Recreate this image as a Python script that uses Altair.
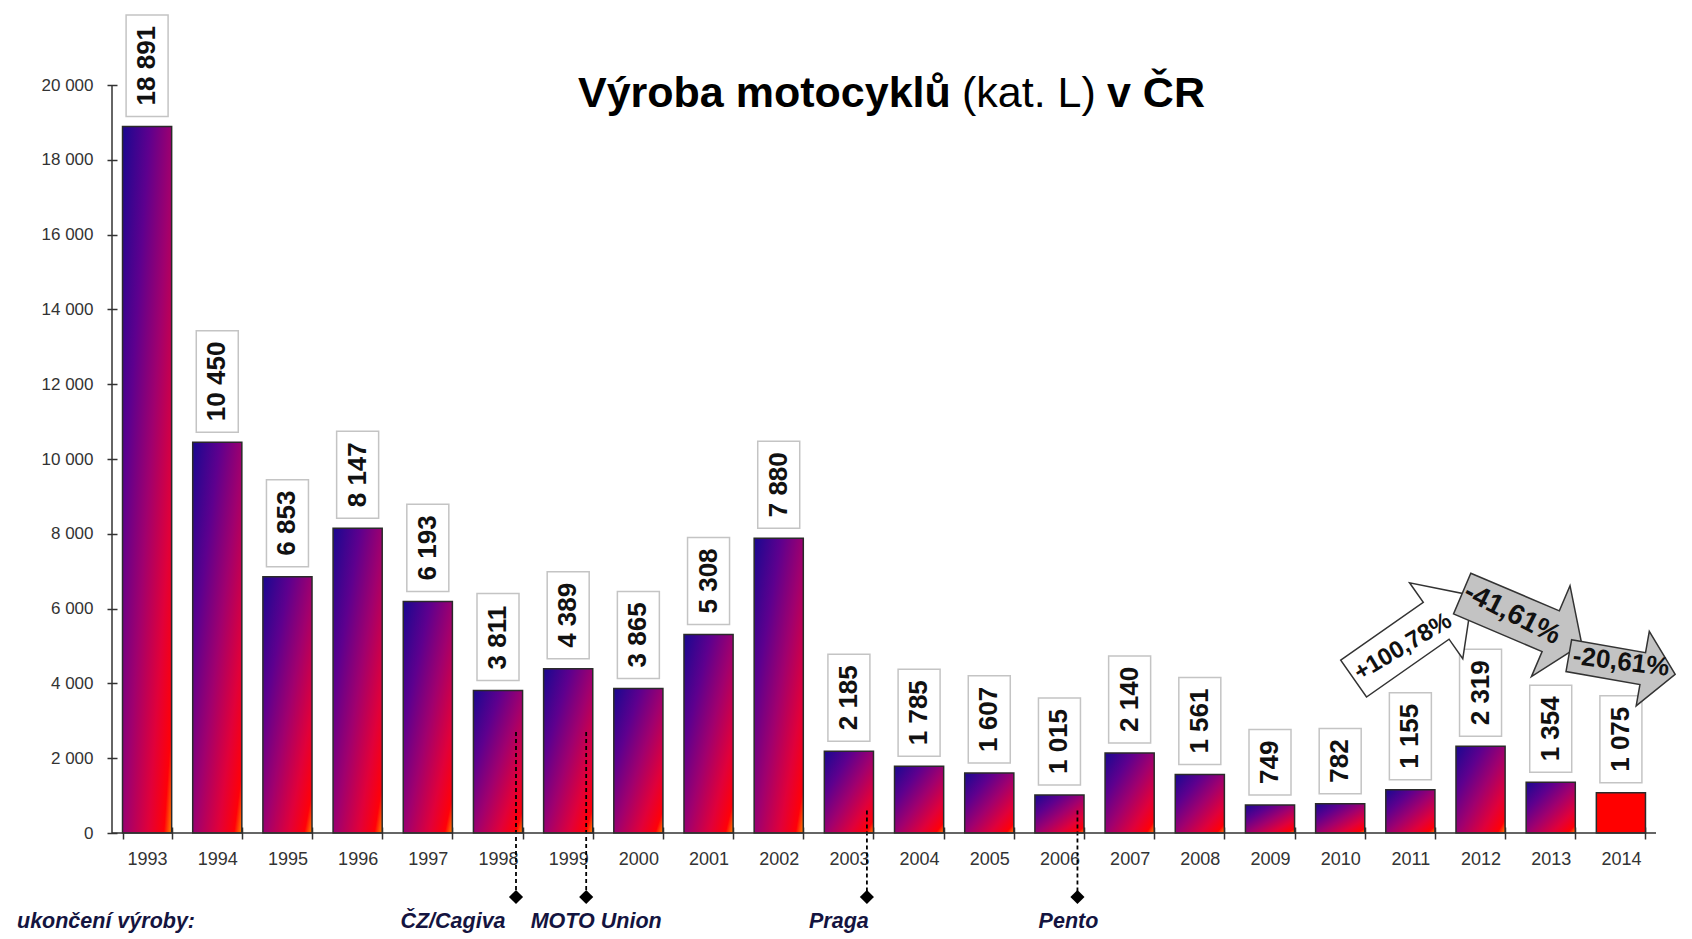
import altair as alt
import pandas as pd

# ---------------- data ----------------
years = [str(y) for y in range(1993, 2015)]
values = [18891, 10450, 6853, 8147, 6193, 3811, 4389, 3865, 5308, 7880, 2185,
          1785, 1607, 1015, 2140, 1561, 749, 782, 1155, 2319, 1354, 1075]
y_ticks = [0, 2000, 4000, 6000, 8000, 10000, 12000, 14000, 16000, 18000, 20000]
highlight_year = "2014"

end_years = ["1998", "1999", "2003", "2006"]
end_names = ["ČZ/Cagiva", "MOTO Union", "Praga", "Pento"]
end_marker_top = [2700, 2700, 600, 600]
footer_label = "ukončení výroby:"

change_labels = ["+100,78%", "-41,61%", "-20,61%"]
title_parts = ["Výroba motocyklů", "(kat. L)", "v ČR"]

# ---------------- layout / style ----------------
W, H = 1544, 748
FONT = "Liberation Sans"
VAL_FS = 26
PAD = 11
NOTE_FS = 21.5
NOTE_COLOR = "#141440"
NOTE_Y = 843

labels = [f"{v:,}".replace(",", " ") for v in values]
df = pd.DataFrame({"year": years, "value": values, "label": labels,
                   "nchar": [len(s) for s in labels]})

xscale = alt.Scale(domain=years, paddingInner=0.3, paddingOuter=0.15)
yscale = alt.Scale(domain=[0, 20000], nice=False, zero=True)

X = alt.X("year:N", scale=xscale, sort=years,
          axis=alt.Axis(title=None, labelAngle=0, labelFontSize=18, labelColor="#333",
                        labelFont=FONT, tickBand="extent", tickSize=12, tickColor="#333",
                        tickWidth=1.5, offset=-6, domain=False, labelPadding=11))
Y = alt.Y("value:Q", scale=yscale,
          axis=alt.Axis(title=None, values=y_ticks, grid=False, domain=False,
                        labelExpr="datum.value >= 1000 ? floor(datum.value/1000) + ' 000' : '' + datum.value",
                        labelFontSize=17, labelColor="#333", labelFont=FONT,
                        tickSize=10, tickColor="#333", tickWidth=1.5, offset=-5,
                        labelPadding=14))

grad = alt.LinearGradient(
    gradient="linear", x1=0, y1=0, x2=1, y2=1,
    stops=[alt.GradientStop(color="#1a0890", offset=0.0),
           alt.GradientStop(color="#5e008e", offset=0.28),
           alt.GradientStop(color="#a0006e", offset=0.52),
           alt.GradientStop(color="#e0003a", offset=0.76),
           alt.GradientStop(color="#ff0008", offset=0.92),
           alt.GradientStop(color="#ff8a00", offset=1.0)])

base = alt.Chart(df)

bars = base.transform_filter(f"datum.year != '{highlight_year}'").mark_bar(
    fill=grad, stroke="#2a2a2a", strokeWidth=1.5).encode(x=X, y=Y)
bar_hi = base.transform_filter(f"datum.year == '{highlight_year}'").mark_bar(
    fill="#ff0000", stroke="#2a2a2a", strokeWidth=1.5).encode(x=X, y=Y)


def text_px(n):
    # digits + one space per thousand group
    if n <= 3:
        return n * 0.556 * VAL_FS
    return (n - 1) * 0.556 * VAL_FS + 0.278 * VAL_FS


boxes = []
for n in sorted(set(df["nchar"])):
    h = text_px(n) + 2 * PAD
    boxes.append(
        base.transform_filter(f"datum.nchar == {n}").mark_bar(
            width=42, fill="white", stroke="#c4c4c4", strokeWidth=1.5,
            yOffset=-10, y2Offset=-(10 + h)).encode(x=X, y=Y, y2=alt.Y2("value:Q")))

val_text = base.mark_text(angle=270, align="left", baseline="middle", fontSize=VAL_FS,
                          font=FONT, fontWeight="bold", color="#111",
                          yOffset=-(10 + PAD)).encode(x=X, y=Y, text="label:N")

# axis lines
x_line = alt.Chart(pd.DataFrame({"a": [0]})).mark_rule(color="#333", strokeWidth=1.5).encode(
    y=alt.datum(0))
y_line = alt.Chart(pd.DataFrame({"a": [0]})).mark_rule(color="#333", strokeWidth=1.5).encode(
    x=alt.value(0), y=alt.value(0), y2=alt.value(H))

# production end markers
mdf = pd.DataFrame({"year": end_years, "name": end_names, "top": end_marker_top})
mbase = alt.Chart(mdf)
MX = alt.X("year:N", scale=xscale, sort=years)
mrules = mbase.mark_rule(color="black", strokeWidth=1.8, strokeDash=[4, 3], xOffset=18).encode(
    x=MX, y=alt.Y("top:Q", scale=yscale), y2=alt.value(812))
mdiam = mbase.mark_point(shape="diamond", filled=True, size=200, color="black",
                         opacity=1, xOffset=18).encode(x=MX, y=alt.value(812))
name_offsets = [-45, 28, -10, 9]
mnames = []
for nm, off in zip(end_names, name_offsets):
    mnames.append(mbase.transform_filter(alt.datum.name == nm).mark_text(
        font=FONT, fontSize=NOTE_FS, fontStyle="italic", fontWeight="bold", color=NOTE_COLOR,
        align="center", baseline="alphabetic", xOffset=off).encode(
        x=MX, y=alt.value(NOTE_Y), text="name:N"))
footer = alt.Chart(pd.DataFrame({"t": [footer_label]})).mark_text(
    font=FONT, fontSize=NOTE_FS, fontStyle="italic", fontWeight="bold", color=NOTE_COLOR,
    align="left", baseline="alphabetic").encode(x=alt.value(-95), y=alt.value(NOTE_Y), text="t:N")

# title (mixed weights)
title_x = [466, 850, 995]
title_w = ["bold", "normal", "bold"]
titles = []
for t, tx, tw in zip(title_parts, title_x, title_w):
    titles.append(alt.Chart(pd.DataFrame({"t": [t]})).mark_text(
        font=FONT, fontSize=43, fontWeight=tw, color="black", align="left",
        baseline="alphabetic").encode(x=alt.value(tx), y=alt.value(22), text="t:N"))


# change arrows
def arrow_path(shaft, head, basex):
    return (f"M-1,{-shaft}L{basex},{-shaft}L{basex},{-head}L1,0L{basex},{head}"
            f"L{basex},{shaft}L-1,{shaft}Z")


arrow_specs = [
    # (cx, cy, angle, length, shaft, head, base, fill, text cx, text cy, text angle, font size)
    (1301, 552, 325, 145, 0.31, 0.64, 0.39, "white", 1291, 562, 329, 24),
    (1410, 534, 23, 130, 0.34, 0.76, 0.48, "#c3c3c3", 1400, 529, 27, 28),
    (1510, 580, 10, 108, 0.30, 0.70, 0.39, "#c3c3c3", 1509, 577, 7, 26),
]
arrows = []
for lab, (cx, cy, ang, L, sh, hd, bx, fill, tx, ty, ta, fs) in zip(change_labels, arrow_specs):
    adf = pd.DataFrame({"t": [lab]})
    arrows.append(alt.Chart(adf).mark_point(
        shape=arrow_path(sh, hd, bx), filled=True, fill=fill, stroke="#333",
        strokeWidth=1.5, size=L * L, angle=ang, opacity=1, fillOpacity=1,
        strokeOpacity=1).encode(x=alt.value(cx), y=alt.value(cy)))
    arrows.append(alt.Chart(adf).mark_text(
        font=FONT, fontSize=fs, fontWeight="bold", color="#111", angle=ta,
        align="center", baseline="middle").encode(
        x=alt.value(tx), y=alt.value(ty), text="t:N"))

chart = alt.layer(
    bars, bar_hi, *boxes, val_text, mrules, x_line, y_line, mdiam, *mnames, footer,
    *titles, *arrows
).properties(
    width=W, height=H,
    background="white",
    autosize=alt.AutoSizeParams(type="none"),
    padding={"left": 104, "top": 77, "right": 24, "bottom": 104},
).configure_view(stroke=None, strokeWidth=0)

chart.save("out.html", embed_options={"renderer": "svg", "actions": False})
